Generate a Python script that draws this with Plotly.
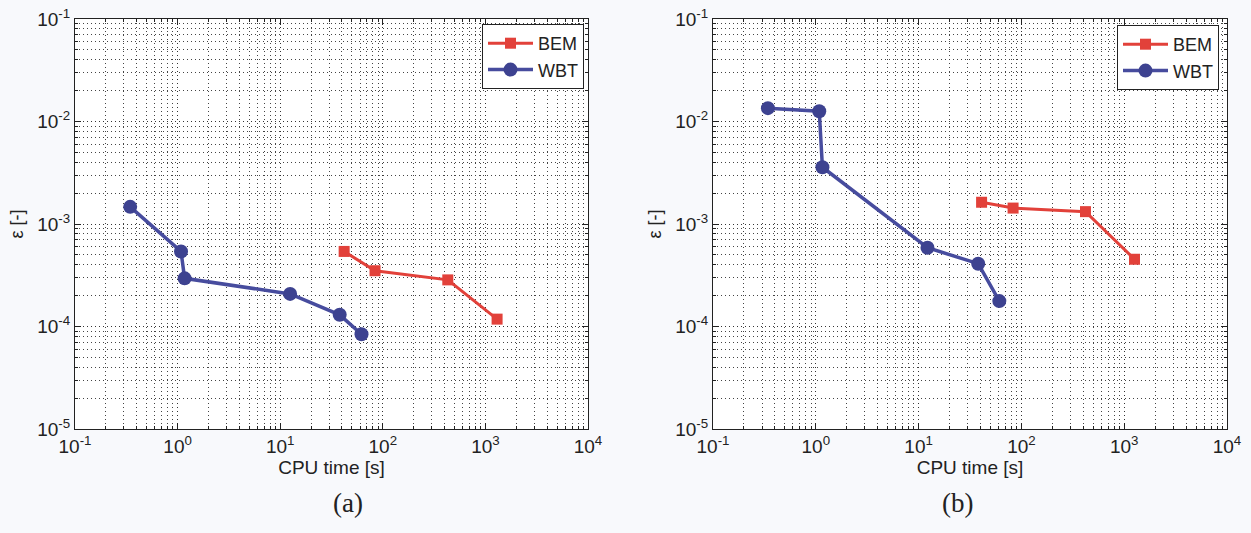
import plotly.graph_objects as go

# ---- data ----
wbt_time_a = [0.345, 1.08, 1.17, 12.5, 38.0, 62.0]
wbt_err_a = [1.47e-3, 5.4e-4, 2.95e-4, 2.08e-4, 1.30e-4, 8.4e-5]
bem_time_a = [42.0, 84.0, 430.0, 1300.0]
bem_err_a = [5.4e-4, 3.5e-4, 2.85e-4, 1.18e-4]

wbt_time_b = [0.342, 1.08, 1.16, 12.2, 38.0, 61.0]
wbt_err_b = [1.35e-2, 1.26e-2, 3.58e-3, 5.87e-4, 4.1e-4, 1.77e-4]
bem_time_b = [41.0, 83.0, 420.0, 1260.0]
bem_err_b = [1.63e-3, 1.43e-3, 1.32e-3, 4.53e-4]

x_tickvals = [0.1, 1, 10, 100, 1000, 10000]
x_ticktext = ["10<sup>-1</sup>", "10<sup>0</sup>", "10<sup>1</sup>", "10<sup>2</sup>", "10<sup>3</sup>", "10<sup>4</sup>"]
y_tickvals = [1e-5, 1e-4, 1e-3, 1e-2, 1e-1]
y_ticktext = ["10<sup>-5</sup>", "10<sup>-4</sup>", "10<sup>-3</sup>", "10<sup>-2</sup>", "10<sup>-1</sup>"]

RED = "#e2413a"
BLUE = "#474c9e"
FONT = "Liberation Sans"

x_minor = [m * 10 ** e for e in range(-1, 4) for m in range(2, 10)]
y_minor = [m * 10 ** e for e in range(-5, -1) for m in range(2, 10)]

fig = go.Figure()

panels = [
    ("x", "y", "legend", wbt_time_a, wbt_err_a, bem_time_a, bem_err_a),
    ("x2", "y2", "legend2", wbt_time_b, wbt_err_b, bem_time_b, bem_err_b),
]
for xa, ya, lg, wt, we, bt, be in panels:
    fig.add_trace(go.Scatter(
        x=bt, y=be, name="BEM", mode="lines+markers", xaxis=xa, yaxis=ya, legend=lg,
        line=dict(color=RED, width=3),
        marker=dict(symbol="square", size=11, color=RED),
    ))
    fig.add_trace(go.Scatter(
        x=wt, y=we, name="WBT", mode="lines+markers", xaxis=xa, yaxis=ya, legend=lg,
        line=dict(color=BLUE, width=3.5),
        marker=dict(symbol="circle", size=14, color="#3d4290"),
    ))

grid_dash = "1px,3px"
common_x = dict(
    type="log", range=[-1, 4], tickmode="array", tickvals=x_tickvals, ticktext=x_ticktext,
    showline=True, linecolor="#222", linewidth=1.2, mirror="allticks",
    ticks="inside", ticklen=6, tickcolor="#222",
    showgrid=True, gridcolor="#333", gridwidth=1, griddash=grid_dash,
    minor=dict(tickmode="array", tickvals=x_minor, showgrid=True, gridcolor="#444",
               griddash=grid_dash, gridwidth=1, ticks="inside", ticklen=3, tickcolor="#222"),
    tickfont=dict(family=FONT, size=19, color="#222"),
    title=dict(text="CPU time [s]", font=dict(family=FONT, size=19, color="#222"), standoff=2),
    zeroline=False, automargin=False,
)
common_y = dict(
    type="log", range=[-5, -1], tickmode="array", tickvals=y_tickvals, ticktext=y_ticktext,
    showline=True, linecolor="#222", linewidth=1.2, mirror="allticks",
    ticks="inside", ticklen=6, tickcolor="#222",
    showgrid=True, gridcolor="#333", gridwidth=1, griddash=grid_dash,
    minor=dict(tickmode="array", tickvals=y_minor, showgrid=True, gridcolor="#444",
               griddash=grid_dash, gridwidth=1, ticks="inside", ticklen=3, tickcolor="#222"),
    tickfont=dict(family=FONT, size=19, color="#222"),
    title=dict(text="ε [-]", font=dict(family=FONT, size=18, color="#222"), standoff=8),
    zeroline=False, automargin=False,
    domain=[1 - 429 / 533, 1 - 19 / 533],
)

xa1 = dict(common_x); xa1.update(domain=[75 / 1251, 588 / 1251], anchor="y")
xa2 = dict(common_x); xa2.update(domain=[713 / 1251, 1227 / 1251], anchor="y2")
ya1 = dict(common_y); ya1.update(anchor="x")
ya2 = dict(common_y); ya2.update(anchor="x2")

leg_common = dict(
    bgcolor="white", bordercolor="#222", borderwidth=1,
    font=dict(family=FONT, size=18, color="#222"),
    xanchor="right", yanchor="top", itemwidth=45, tracegroupgap=0,
    traceorder="normal",
)
leg1 = dict(leg_common); leg1.update(x=584 / 1251, y=1 - 24 / 533)
leg2 = dict(leg_common); leg2.update(x=1219 / 1251, y=1 - 25 / 533)

fig.update_layout(
    width=1251, height=533,
    margin=dict(l=0, r=0, t=0, b=0),
    paper_bgcolor="#f8f9fc", plot_bgcolor="#ffffff",
    xaxis=xa1, yaxis=ya1, xaxis2=xa2, yaxis2=ya2,
    legend=leg1, legend2=leg2,
    showlegend=True,
    annotations=[
        dict(text="(a)", x=331 / 1251, y=1 - 520 / 533, xref="paper", yref="paper",
             showarrow=False, font=dict(family="Liberation Serif", size=27, color="#222")),
        dict(text="(b)", x=975 / 1251, y=1 - 520 / 533, xref="paper", yref="paper",
             showarrow=False, font=dict(family="Liberation Serif", size=27, color="#222")),
    ],
)

fig.write_html("out.html")
